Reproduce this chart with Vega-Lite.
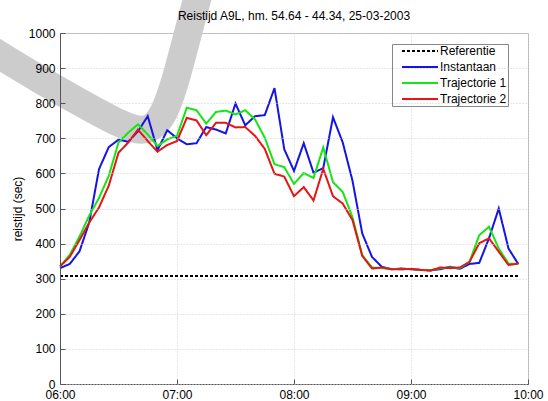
{
  "$schema": "https://vega.github.io/schema/vega-lite/v6.json",
  "autosize": {"type": "none"},
  "width": 468,
  "height": 351,
  "padding": {"left": 60, "top": 33, "right": 20, "bottom": 17},
  "background": "white",
  "title": {"text": "Reistijd A9L, hm. 54.64 - 44.34, 25-03-2003", "fontSize": 12, "fontWeight": "normal", "font": "Liberation Sans", "color": "#000000", "offset": -85, "anchor": "middle", "frame": "group"},
  "config": {
    "font": "Liberation Sans",
    "view": {"stroke": "#b8b8b8", "strokeWidth": 1},
    "axis": {
      "labelFontSize": 12, "labelColor": "#000000", "labelFont": "Liberation Sans",
      "titleFontSize": 12, "titleFontWeight": "normal", "titleColor": "#000000", "titleFont": "Liberation Sans",
      "domainColor": "#555555", "tickColor": "#555555", "tickSize": -5,
      "gridColor": "#cfcfcf", "gridDash": [1, 2], "gridWidth": 1
    }
  },
  "encoding": {
    "x": {"field": "t", "type": "temporal",
      "scale": {"domain": [{"year": 2003, "month": 3, "date": 25, "hours": 6}, {"year": 2003, "month": 3, "date": 25, "hours": 10}], "nice": false},
      "axis": {"title": null, "format": "%H:%M", "values": [
        {"year": 2003, "month": 3, "date": 25, "hours": 6}, {"year": 2003, "month": 3, "date": 25, "hours": 7}, {"year": 2003, "month": 3, "date": 25, "hours": 8},
        {"year": 2003, "month": 3, "date": 25, "hours": 9}, {"year": 2003, "month": 3, "date": 25, "hours": 10}], "labelPadding": 10, "labelFlush": false}},
    "y": {"field": "v", "type": "quantitative",
      "scale": {"domain": [0, 1000], "nice": false},
      "axis": {"title": "reistijd (sec)", "format": "d", "values": [0, 100, 200, 300, 400, 500, 600, 700, 800, 900, 1000], "labelPadding": 10, "titlePadding": 4, "zindex": 1}}
  },
  "layer": [
    {
      "data": {"values": [
        {"t": "2003-03-25T05:24", "v": 955}, {"t": "2003-03-25T05:29", "v": 937}, {"t": "2003-03-25T05:50", "v": 866}, {"t": "2003-03-25T06:10", "v": 803},
        {"t": "2003-03-25T06:25", "v": 757}, {"t": "2003-03-25T06:38", "v": 723}, {"t": "2003-03-25T06:46", "v": 723}, {"t": "2003-03-25T06:52", "v": 757},
        {"t": "2003-03-25T06:56", "v": 809}, {"t": "2003-03-25T07:00", "v": 880}, {"t": "2003-03-25T07:04", "v": 965}, {"t": "2003-03-25T07:08", "v": 1050}, {"t": "2003-03-25T07:11", "v": 1110}
      ]},
      "mark": {"type": "line", "color": "#cccccc", "strokeWidth": 28, "interpolate": "basis", "clip": false, "strokeCap": "butt"}
    },
    {
      "data": {"values": [
        {"t": "2003-03-25T06:00", "s": "Referentie", "v": 308}, {"t": "2003-03-25T09:55", "s": "Referentie", "v": 308},
        {"t": "2003-03-25T06:00", "s": "Instantaan", "v": 330}, {"t": "2003-03-25T06:05", "s": "Instantaan", "v": 342}, {"t": "2003-03-25T06:10", "s": "Instantaan", "v": 378}, {"t": "2003-03-25T06:15", "s": "Instantaan", "v": 460},
        {"t": "2003-03-25T06:20", "s": "Instantaan", "v": 612}, {"t": "2003-03-25T06:25", "s": "Instantaan", "v": 675}, {"t": "2003-03-25T06:30", "s": "Instantaan", "v": 696}, {"t": "2003-03-25T06:35", "s": "Instantaan", "v": 690},
        {"t": "2003-03-25T06:40", "s": "Instantaan", "v": 720}, {"t": "2003-03-25T06:45", "s": "Instantaan", "v": 763}, {"t": "2003-03-25T06:50", "s": "Instantaan", "v": 666}, {"t": "2003-03-25T06:55", "s": "Instantaan", "v": 723},
        {"t": "2003-03-25T07:00", "s": "Instantaan", "v": 700}, {"t": "2003-03-25T07:05", "s": "Instantaan", "v": 683}, {"t": "2003-03-25T07:10", "s": "Instantaan", "v": 686}, {"t": "2003-03-25T07:15", "s": "Instantaan", "v": 732},
        {"t": "2003-03-25T07:20", "s": "Instantaan", "v": 725}, {"t": "2003-03-25T07:25", "s": "Instantaan", "v": 714}, {"t": "2003-03-25T07:30", "s": "Instantaan", "v": 799}, {"t": "2003-03-25T07:35", "s": "Instantaan", "v": 737},
        {"t": "2003-03-25T07:40", "s": "Instantaan", "v": 763}, {"t": "2003-03-25T07:45", "s": "Instantaan", "v": 766}, {"t": "2003-03-25T07:50", "s": "Instantaan", "v": 843}, {"t": "2003-03-25T07:55", "s": "Instantaan", "v": 669},
        {"t": "2003-03-25T08:00", "s": "Instantaan", "v": 607}, {"t": "2003-03-25T08:05", "s": "Instantaan", "v": 686}, {"t": "2003-03-25T08:10", "s": "Instantaan", "v": 602}, {"t": "2003-03-25T08:15", "s": "Instantaan", "v": 615},
        {"t": "2003-03-25T08:20", "s": "Instantaan", "v": 760}, {"t": "2003-03-25T08:25", "s": "Instantaan", "v": 688}, {"t": "2003-03-25T08:30", "s": "Instantaan", "v": 579}, {"t": "2003-03-25T08:35", "s": "Instantaan", "v": 429},
        {"t": "2003-03-25T08:40", "s": "Instantaan", "v": 362}, {"t": "2003-03-25T08:45", "s": "Instantaan", "v": 334}, {"t": "2003-03-25T08:50", "s": "Instantaan", "v": 327}, {"t": "2003-03-25T08:55", "s": "Instantaan", "v": 329},
        {"t": "2003-03-25T09:00", "s": "Instantaan", "v": 327}, {"t": "2003-03-25T09:05", "s": "Instantaan", "v": 325}, {"t": "2003-03-25T09:10", "s": "Instantaan", "v": 324}, {"t": "2003-03-25T09:15", "s": "Instantaan", "v": 327},
        {"t": "2003-03-25T09:20", "s": "Instantaan", "v": 334}, {"t": "2003-03-25T09:25", "s": "Instantaan", "v": 328}, {"t": "2003-03-25T09:30", "s": "Instantaan", "v": 342}, {"t": "2003-03-25T09:35", "s": "Instantaan", "v": 345},
        {"t": "2003-03-25T09:40", "s": "Instantaan", "v": 415}, {"t": "2003-03-25T09:45", "s": "Instantaan", "v": 500}, {"t": "2003-03-25T09:50", "s": "Instantaan", "v": 386}, {"t": "2003-03-25T09:55", "s": "Instantaan", "v": 342},
        {"t": "2003-03-25T06:00", "s": "Trajectorie 1", "v": 335}, {"t": "2003-03-25T06:05", "s": "Trajectorie 1", "v": 368}, {"t": "2003-03-25T06:10", "s": "Trajectorie 1", "v": 420}, {"t": "2003-03-25T06:15", "s": "Trajectorie 1", "v": 480},
        {"t": "2003-03-25T06:20", "s": "Trajectorie 1", "v": 530}, {"t": "2003-03-25T06:25", "s": "Trajectorie 1", "v": 593}, {"t": "2003-03-25T06:30", "s": "Trajectorie 1", "v": 688}, {"t": "2003-03-25T06:35", "s": "Trajectorie 1", "v": 716},
        {"t": "2003-03-25T06:40", "s": "Trajectorie 1", "v": 740}, {"t": "2003-03-25T06:45", "s": "Trajectorie 1", "v": 711}, {"t": "2003-03-25T06:50", "s": "Trajectorie 1", "v": 678}, {"t": "2003-03-25T06:55", "s": "Trajectorie 1", "v": 697},
        {"t": "2003-03-25T07:00", "s": "Trajectorie 1", "v": 707}, {"t": "2003-03-25T07:05", "s": "Trajectorie 1", "v": 787}, {"t": "2003-03-25T07:10", "s": "Trajectorie 1", "v": 780}, {"t": "2003-03-25T07:15", "s": "Trajectorie 1", "v": 742},
        {"t": "2003-03-25T07:20", "s": "Trajectorie 1", "v": 775}, {"t": "2003-03-25T07:25", "s": "Trajectorie 1", "v": 779}, {"t": "2003-03-25T07:30", "s": "Trajectorie 1", "v": 768}, {"t": "2003-03-25T07:35", "s": "Trajectorie 1", "v": 780},
        {"t": "2003-03-25T07:40", "s": "Trajectorie 1", "v": 754}, {"t": "2003-03-25T07:45", "s": "Trajectorie 1", "v": 702}, {"t": "2003-03-25T07:50", "s": "Trajectorie 1", "v": 626}, {"t": "2003-03-25T07:55", "s": "Trajectorie 1", "v": 618},
        {"t": "2003-03-25T08:00", "s": "Trajectorie 1", "v": 570}, {"t": "2003-03-25T08:05", "s": "Trajectorie 1", "v": 601}, {"t": "2003-03-25T08:10", "s": "Trajectorie 1", "v": 587}, {"t": "2003-03-25T08:15", "s": "Trajectorie 1", "v": 674},
        {"t": "2003-03-25T08:20", "s": "Trajectorie 1", "v": 575}, {"t": "2003-03-25T08:25", "s": "Trajectorie 1", "v": 547}, {"t": "2003-03-25T08:30", "s": "Trajectorie 1", "v": 475}, {"t": "2003-03-25T08:35", "s": "Trajectorie 1", "v": 367},
        {"t": "2003-03-25T08:40", "s": "Trajectorie 1", "v": 332}, {"t": "2003-03-25T08:45", "s": "Trajectorie 1", "v": 330}, {"t": "2003-03-25T08:50", "s": "Trajectorie 1", "v": 328}, {"t": "2003-03-25T08:55", "s": "Trajectorie 1", "v": 327},
        {"t": "2003-03-25T09:00", "s": "Trajectorie 1", "v": 328}, {"t": "2003-03-25T09:05", "s": "Trajectorie 1", "v": 325}, {"t": "2003-03-25T09:10", "s": "Trajectorie 1", "v": 324}, {"t": "2003-03-25T09:15", "s": "Trajectorie 1", "v": 330},
        {"t": "2003-03-25T09:20", "s": "Trajectorie 1", "v": 332}, {"t": "2003-03-25T09:25", "s": "Trajectorie 1", "v": 330}, {"t": "2003-03-25T09:30", "s": "Trajectorie 1", "v": 348}, {"t": "2003-03-25T09:35", "s": "Trajectorie 1", "v": 424},
        {"t": "2003-03-25T09:40", "s": "Trajectorie 1", "v": 448}, {"t": "2003-03-25T09:45", "s": "Trajectorie 1", "v": 386}, {"t": "2003-03-25T09:50", "s": "Trajectorie 1", "v": 343}, {"t": "2003-03-25T09:55", "s": "Trajectorie 1", "v": 342},
        {"t": "2003-03-25T06:00", "s": "Trajectorie 2", "v": 335}, {"t": "2003-03-25T06:05", "s": "Trajectorie 2", "v": 362}, {"t": "2003-03-25T06:10", "s": "Trajectorie 2", "v": 410}, {"t": "2003-03-25T06:15", "s": "Trajectorie 2", "v": 460},
        {"t": "2003-03-25T06:20", "s": "Trajectorie 2", "v": 503}, {"t": "2003-03-25T06:25", "s": "Trajectorie 2", "v": 565}, {"t": "2003-03-25T06:30", "s": "Trajectorie 2", "v": 659}, {"t": "2003-03-25T06:35", "s": "Trajectorie 2", "v": 688},
        {"t": "2003-03-25T06:40", "s": "Trajectorie 2", "v": 725}, {"t": "2003-03-25T06:45", "s": "Trajectorie 2", "v": 692}, {"t": "2003-03-25T06:50", "s": "Trajectorie 2", "v": 662}, {"t": "2003-03-25T06:55", "s": "Trajectorie 2", "v": 681},
        {"t": "2003-03-25T07:00", "s": "Trajectorie 2", "v": 692}, {"t": "2003-03-25T07:05", "s": "Trajectorie 2", "v": 758}, {"t": "2003-03-25T07:10", "s": "Trajectorie 2", "v": 751}, {"t": "2003-03-25T07:15", "s": "Trajectorie 2", "v": 709},
        {"t": "2003-03-25T07:20", "s": "Trajectorie 2", "v": 744}, {"t": "2003-03-25T07:25", "s": "Trajectorie 2", "v": 744}, {"t": "2003-03-25T07:30", "s": "Trajectorie 2", "v": 731}, {"t": "2003-03-25T07:35", "s": "Trajectorie 2", "v": 732},
        {"t": "2003-03-25T07:40", "s": "Trajectorie 2", "v": 707}, {"t": "2003-03-25T07:45", "s": "Trajectorie 2", "v": 670}, {"t": "2003-03-25T07:50", "s": "Trajectorie 2", "v": 599}, {"t": "2003-03-25T07:55", "s": "Trajectorie 2", "v": 591},
        {"t": "2003-03-25T08:00", "s": "Trajectorie 2", "v": 535}, {"t": "2003-03-25T08:05", "s": "Trajectorie 2", "v": 561}, {"t": "2003-03-25T08:10", "s": "Trajectorie 2", "v": 523}, {"t": "2003-03-25T08:15", "s": "Trajectorie 2", "v": 613},
        {"t": "2003-03-25T08:20", "s": "Trajectorie 2", "v": 535}, {"t": "2003-03-25T08:25", "s": "Trajectorie 2", "v": 514}, {"t": "2003-03-25T08:30", "s": "Trajectorie 2", "v": 467}, {"t": "2003-03-25T08:35", "s": "Trajectorie 2", "v": 365},
        {"t": "2003-03-25T08:40", "s": "Trajectorie 2", "v": 329}, {"t": "2003-03-25T08:45", "s": "Trajectorie 2", "v": 332}, {"t": "2003-03-25T08:50", "s": "Trajectorie 2", "v": 327}, {"t": "2003-03-25T08:55", "s": "Trajectorie 2", "v": 327},
        {"t": "2003-03-25T09:00", "s": "Trajectorie 2", "v": 328}, {"t": "2003-03-25T09:05", "s": "Trajectorie 2", "v": 325}, {"t": "2003-03-25T09:10", "s": "Trajectorie 2", "v": 323}, {"t": "2003-03-25T09:15", "s": "Trajectorie 2", "v": 332},
        {"t": "2003-03-25T09:20", "s": "Trajectorie 2", "v": 330}, {"t": "2003-03-25T09:25", "s": "Trajectorie 2", "v": 332}, {"t": "2003-03-25T09:30", "s": "Trajectorie 2", "v": 348}, {"t": "2003-03-25T09:35", "s": "Trajectorie 2", "v": 401},
        {"t": "2003-03-25T09:40", "s": "Trajectorie 2", "v": 415}, {"t": "2003-03-25T09:45", "s": "Trajectorie 2", "v": 377}, {"t": "2003-03-25T09:50", "s": "Trajectorie 2", "v": 339}, {"t": "2003-03-25T09:55", "s": "Trajectorie 2", "v": 343}
      ]},
      "mark": {"type": "line", "strokeWidth": 2},
      "encoding": {
        "color": {"field": "s", "type": "nominal",
          "scale": {"domain": ["Referentie", "Instantaan", "Trajectorie 1", "Trajectorie 2"], "range": ["#000000", "#1414e6", "#14e614", "#e61414"]},
          "legend": {"title": null, "orient": "none", "legendX": 332, "legendY": 11, "strokeColor": "#888888", "fillColor": "#ffffff", "padding": 1, "labelFontSize": 12, "labelColor": "#000000", "symbolType": "M-6,0H6", "symbolSize": 36, "symbolStrokeWidth": 2, "symbolOffset": 21, "labelOffset": 14, "rowPadding": 4}},
        "strokeDash": {"field": "s", "type": "nominal",
          "scale": {"domain": ["Referentie", "Instantaan", "Trajectorie 1", "Trajectorie 2"], "range": [[3, 2], [1, 0], [1, 0], [1, 0]]},
          "legend": {"title": null, "orient": "none", "legendX": 332, "legendY": 11, "strokeColor": "#888888", "fillColor": "#ffffff", "padding": 1, "labelFontSize": 12, "labelColor": "#000000", "symbolType": "M-6,0H6", "symbolSize": 36, "symbolStrokeWidth": 2, "symbolOffset": 21, "labelOffset": 14, "rowPadding": 4}}
      }
    }
  ]
}
